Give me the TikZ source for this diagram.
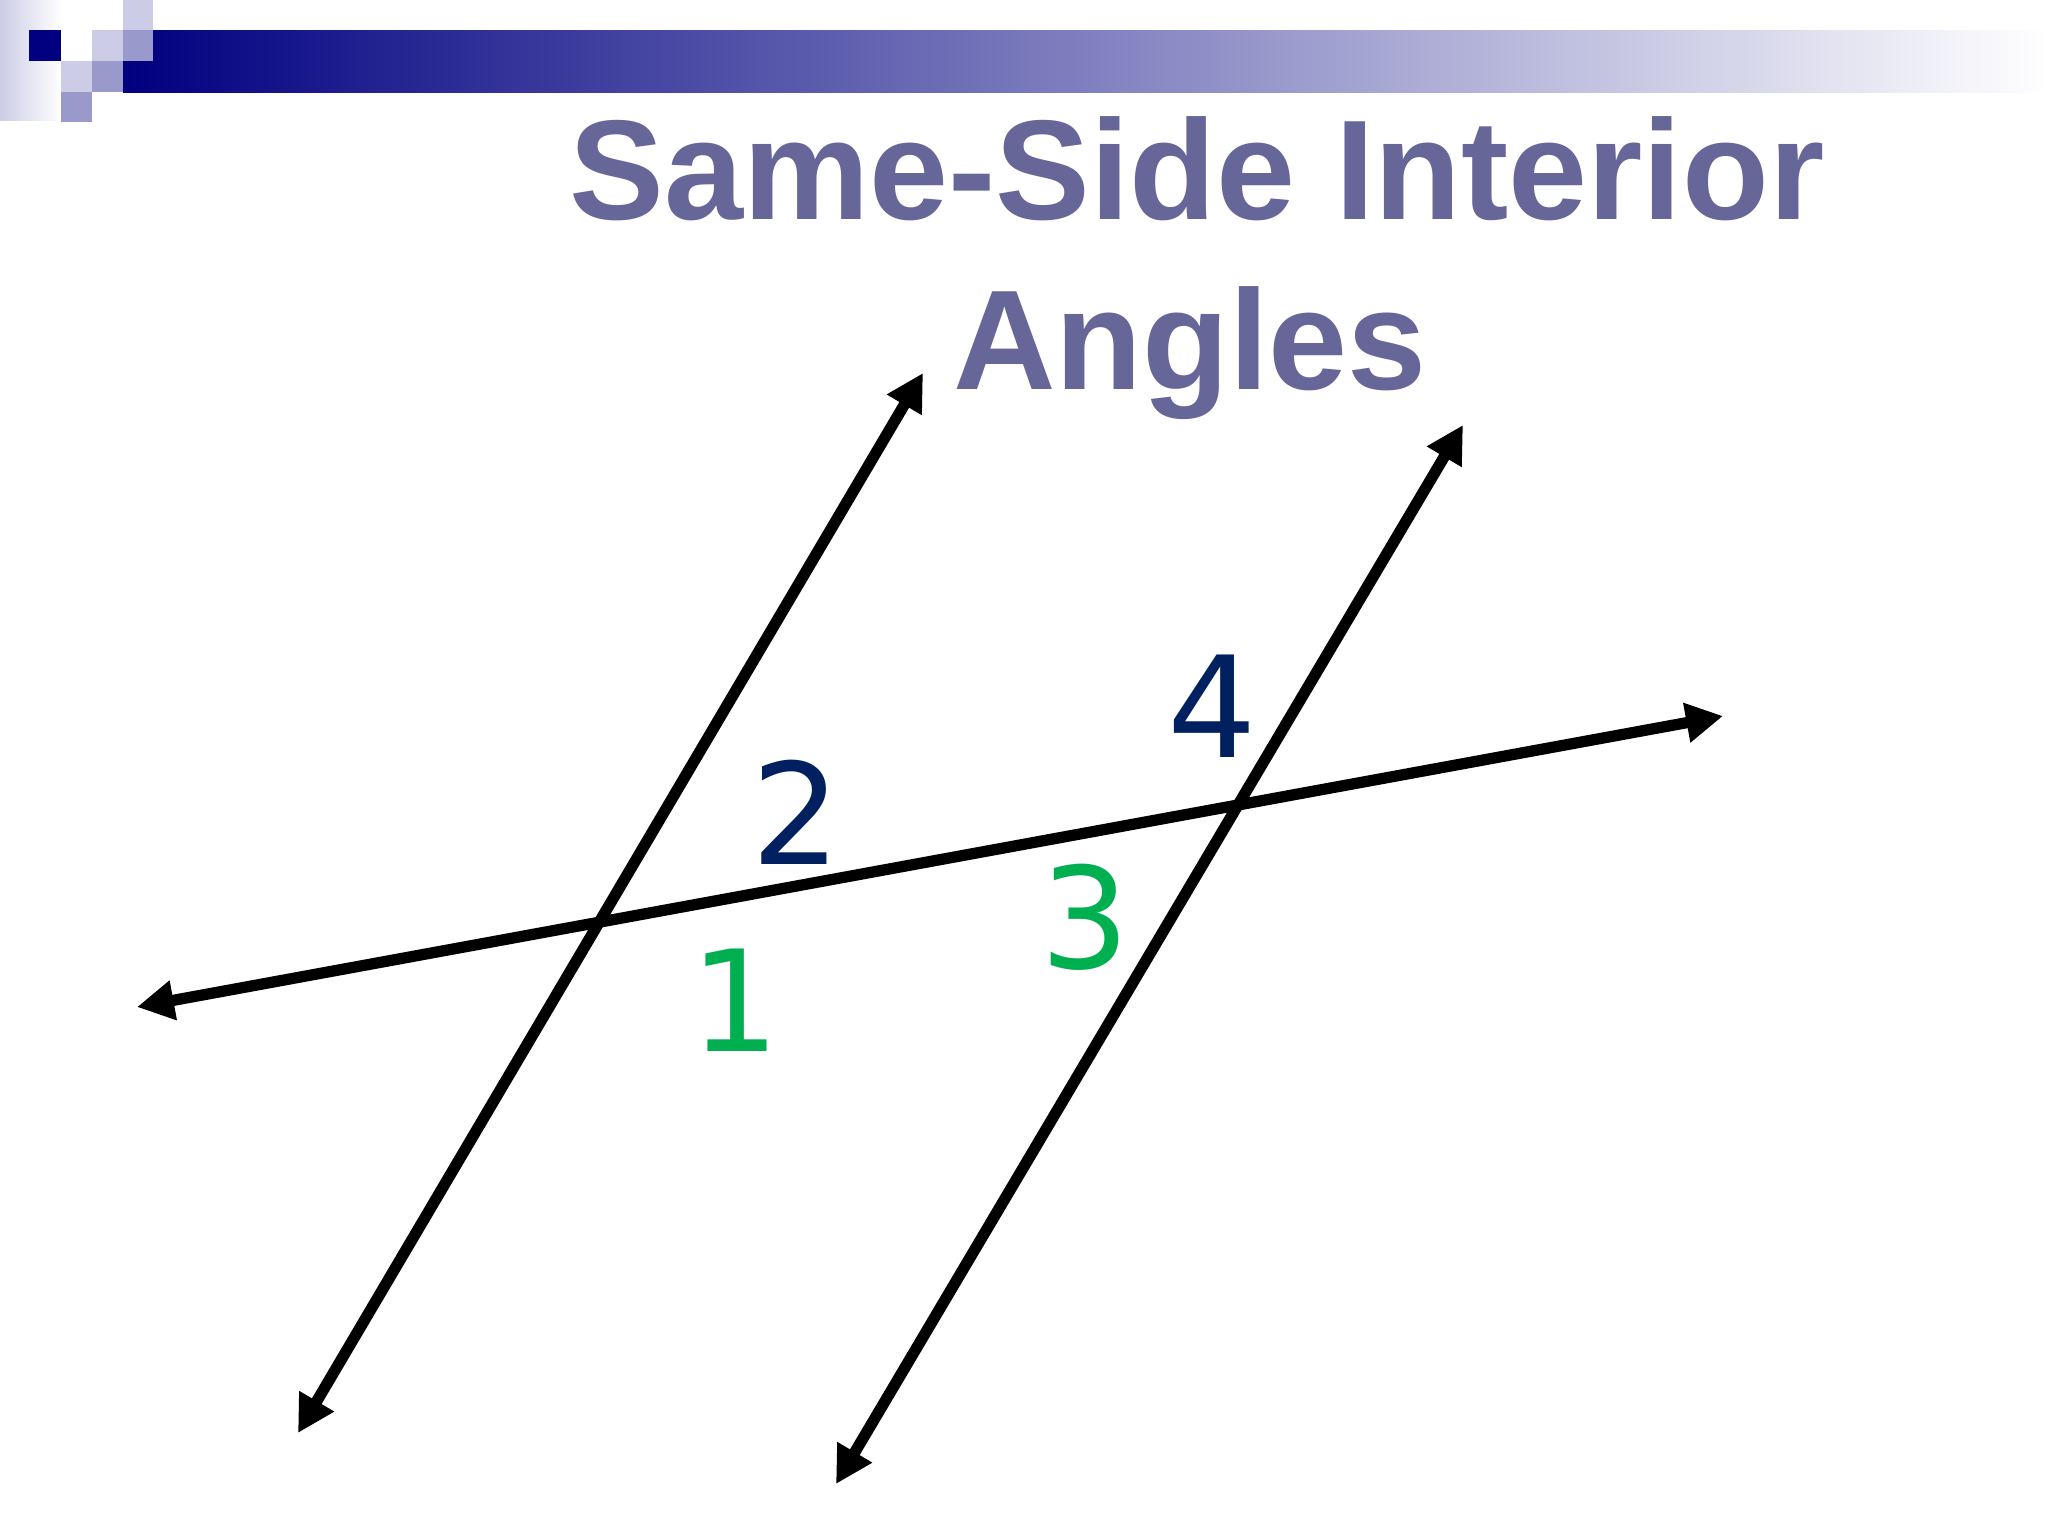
\documentclass[tikz,border=0pt]{standalone}
\usepackage{fontspec}
\usetikzlibrary{arrows.meta}
\newfontfamily\titlefont{Liberation Sans}
\newfontfamily\digitfont{DejaVu Sans}
\definecolor{titleblue}{RGB}{102,102,153}
\definecolor{bannernavy}{RGB}{0,0,128}
\definecolor{lightsq}{RGB}{204,204,230}
\definecolor{midsq}{RGB}{153,153,204}
\definecolor{labelnavy}{RGB}{0,32,96}
\definecolor{labelgreen}{RGB}{0,176,80}
\begin{document}
\begin{tikzpicture}[x=0.01cm, y=-0.01cm,
    ray/.style={<->, >={Triangle[length=10.5pt, width=10.8pt]}, line width=3.2pt},
    sq/.style={fill=#1, draw=none},
    titletext/.style={text=titleblue, font=\titlefont\bfseries\fontsize{40.4}{48}\selectfont, anchor=base, inner sep=0pt},
    angnum/.style={text=#1, font=\digitfont\fontsize{40}{48}\selectfont, inner sep=0pt}]

    \useasboundingbox (0,0) rectangle (2048,1536);

    % banner at the top left
    \shade[left color=lightsq, right color=white] (0,0) rectangle (61,120);
    \shade[left color=bannernavy, right color=white] (123,30) rectangle (2048,92);
    \fill[sq=bannernavy] (29,30) rectangle (61,61);
    \fill[sq=lightsq] (123,0) rectangle (153,30);
    \fill[sq=lightsq] (92,30) rectangle (123,61);
    \fill[sq=midsq] (123,30) rectangle (153,61);
    \fill[sq=lightsq] (61,61) rectangle (92,92);
    \fill[sq=midsq] (92,61) rectangle (123,92);
    \fill[sq=midsq] (61,92) rectangle (92,122);

    \node[titletext] (title1) at (1197,219) {Same-Side Interior};
    \node[titletext] (title2) at (1190,389) {Angles};

    % two parallel lines and the transversal
    \coordinate (a1) at (298,1433);
    \coordinate (a2) at (923,373);
    \coordinate (b1) at (836,1484);
    \coordinate (b2) at (1463,425);
    \coordinate (c1) at (137,1007);
    \coordinate (c2) at (1723,716);

    \draw[ray] (a1) -- (a2);
    \draw[ray] (b1) -- (b2);
    \draw[ray] (c1) -- (c2);

    \node[angnum=labelgreen] (n1) at (735,1000) {1};
    \node[angnum=labelnavy] (n2) at (796,812) {2};
    \node[angnum=labelgreen] (n3) at (1085,917) {3};
    \node[angnum=labelnavy] (n4) at (1212,706) {4};
\end{tikzpicture}
\end{document}
